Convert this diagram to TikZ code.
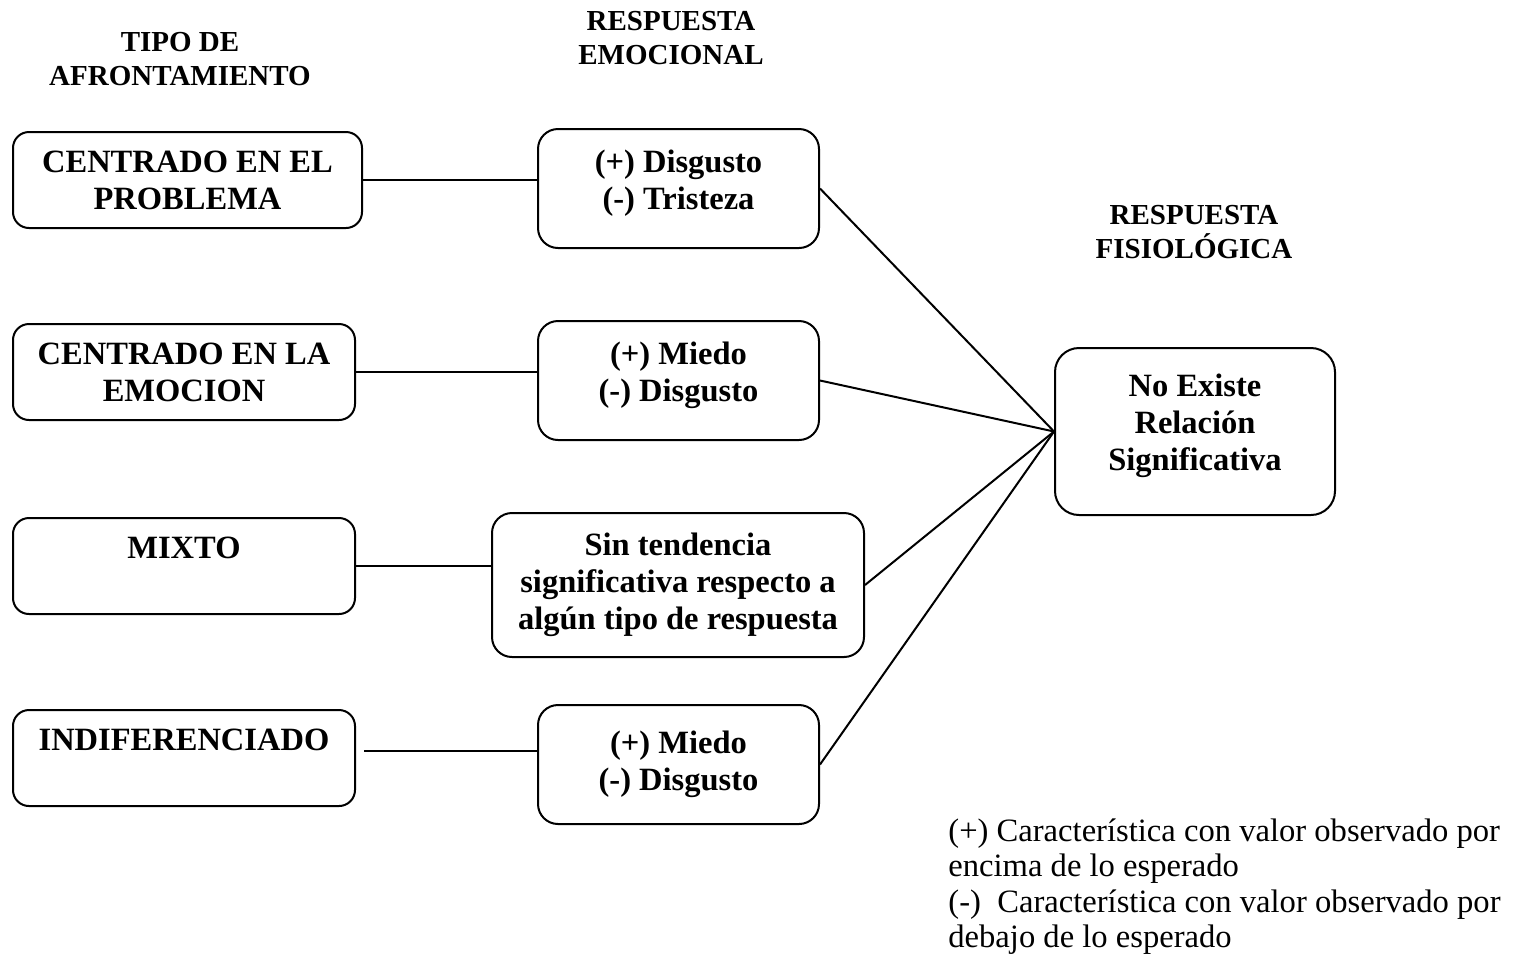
\documentclass[tikz,border=0pt]{standalone}
\usepackage{fontspec}
\setmainfont{Liberation Serif}
\newcommand\bxfont{\fontsize{16.25pt}{18.5pt}\selectfont\bfseries}
\newcommand\hdfont{\fontsize{14.5pt}{16.6pt}\selectfont\bfseries}
\newcommand\lgfont{\fontsize{16.3pt}{17.8pt}\selectfont}
\begin{document}
\begin{tikzpicture}[x=0.5pt,y=-0.5pt,
  box/.style={draw, line width=1pt, rounded corners=8pt, inner sep=0pt,
              align=center, font=\bxfont},
  leftbox/.style={box, minimum width=171pt, minimum height=48pt},
  midbox/.style={box, rounded corners=10pt, minimum width=140.5pt, minimum height=59.5pt},
  head/.style={align=center, inner sep=0pt, font=\hdfont},
  link/.style={line width=1pt}]
\useasboundingbox (0,0) rectangle (1513,955);

% column headings
\node[head] (h1) at (180,59) {TIPO DE\\AFRONTAMIENTO};
\node[head] (h2) at (671,38) {RESPUESTA\\EMOCIONAL};
\node[head] (h3) at (1194,232) {RESPUESTA\\FISIOLÓGICA};

% coping types
\node[leftbox, minimum width=174.5pt] (b1) at (187.5,180) {CENTRADO EN EL\\PROBLEMA};
\node[leftbox] (b2) at (184,372) {CENTRADO EN LA\\EMOCION};
\node[leftbox] (b3) at (184,566) {MIXTO\\\mbox{}};
\node[leftbox] (b4) at (184,758) {INDIFERENCIADO\\\mbox{}};

% emotional responses
\node[midbox, text depth=9pt] (m1) at (678.5,188.5) {(+) Disgusto\\(-) Tristeza};
\node[midbox, text depth=9pt] (m2) at (678.5,380.5) {(+) Miedo\\(-) Disgusto};
\node[box, rounded corners=10pt, minimum width=186pt, minimum height=72pt] (m3) at (678,585)
  {Sin tendencia\\significativa respecto a\\algún tipo de respuesta};
\node[midbox] (m4) at (678.5,764.5) {(+) Miedo\\(-) Disgusto};

% physiological response
\node[box, rounded corners=12pt, minimum width=140pt, minimum height=83.5pt, text depth=9pt]
  (r) at (1195,431.5) {No Existe\\Relación\\Significativa};

% legend
\node[anchor=north west, align=left, inner sep=0pt, font=\lgfont] (lg) at (948,818)
  {(+) Característica con valor observado por\\encima de lo esperado\\(-)\ \ Característica con valor observado por\\debajo de lo esperado};

% connectors
\draw[link] (b1.east) -- (b1.east -| m1.west);
\draw[link] (b2.east) -- (b2.east -| m2.west);
\draw[link] (b3.east) -- (b3.east -| m3.west);
\coordinate (b4out) at ([xshift=4pt,yshift=3.5pt]b4.east);
\draw[link] (b4out) -- (b4out -| m4.west);
\draw[link] (m1.east) -- (r.west);
\draw[link] (m2.east) -- (r.west);
\draw[link] (m3.east) -- (r.west);
\draw[link] (m4.east) -- (r.west);
\end{tikzpicture}
\end{document}
